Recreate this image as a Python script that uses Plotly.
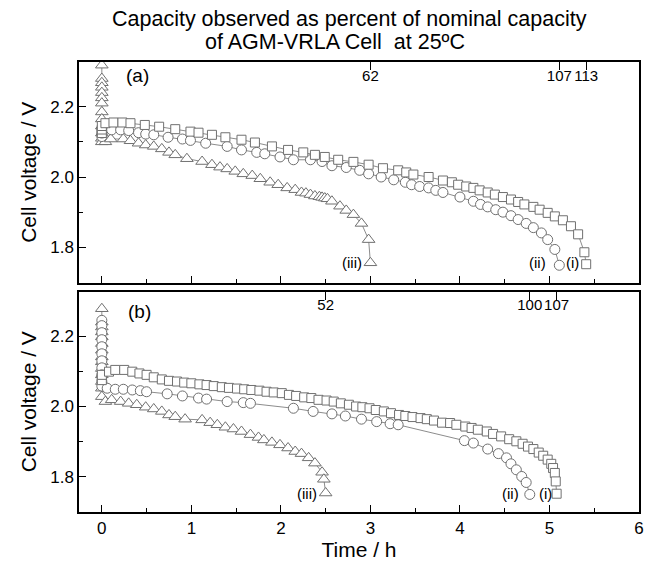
import plotly.graph_objects as go

# ---------------- data ----------------
# Panel (a)
a_sq_t = [0.00, 0.00, 0.00, 0.04, 0.13, 0.23, 0.32, 0.48, 0.64, 0.82, 0.99, 1.08, 1.23, 1.38, 1.56, 1.71,
          1.90, 2.08, 2.25, 2.38, 2.49, 2.64, 2.81, 2.98, 3.14, 3.31, 3.40, 3.48, 3.65, 3.81, 3.91, 3.98,
          4.07, 4.15, 4.22, 4.31, 4.39, 4.48, 4.57, 4.65, 4.72, 4.82, 4.89, 4.98, 5.06, 5.15, 5.24, 5.32,
          5.39, 5.41]
a_sq_v = [2.125, 2.135, 2.145, 2.153, 2.155, 2.155, 2.153, 2.148, 2.143, 2.136, 2.129, 2.126, 2.120, 2.113,
          2.106, 2.098, 2.087, 2.077, 2.070, 2.063, 2.057, 2.049, 2.043, 2.035, 2.025, 2.019, 2.013, 2.007,
          2.000, 1.990, 1.985, 1.978, 1.973, 1.969, 1.962, 1.956, 1.950, 1.943, 1.936, 1.929, 1.922, 1.915,
          1.907, 1.898, 1.888, 1.877, 1.860, 1.837, 1.786, 1.752]

a_ci_t = [0.00, 0.00, 0.00, 0.02, 0.11, 0.21, 0.30, 0.41, 0.49, 0.58, 0.74, 0.90, 0.99, 1.16, 1.40, 1.56,
          1.73, 1.82, 1.99, 2.14, 2.33, 2.46, 2.57, 2.73, 2.88, 2.98, 3.12, 3.26, 3.39, 3.46, 3.55, 3.65,
          3.73, 3.81, 4.00, 4.15, 4.23, 4.31, 4.40, 4.48, 4.57, 4.65, 4.74, 4.82, 4.91, 4.98, 5.06, 5.11]
a_ci_v = [2.115, 2.125, 2.135, 2.134, 2.134, 2.134, 2.132, 2.126, 2.122, 2.120, 2.113, 2.108, 2.104, 2.096,
          2.087, 2.077, 2.070, 2.066, 2.057, 2.049, 2.049, 2.044, 2.032, 2.027, 2.019, 2.009, 2.000, 1.992,
          1.985, 1.978, 1.973, 1.969, 1.962, 1.956, 1.943, 1.931, 1.922, 1.915, 1.907, 1.900, 1.890, 1.879,
          1.868, 1.856, 1.841, 1.822, 1.794, 1.749]

a_tr_t = [0.00, 0.00, 0.00, 0.00, 0.00, 0.00, 0.00, 0.00, 0.00, 0.00, 0.00, 0.00, 0.00, 0.04, 0.10, 0.24,
          0.32, 0.41, 0.49, 0.58, 0.67, 0.75, 0.82, 0.95, 1.12, 1.23, 1.32, 1.40, 1.49, 1.58, 1.68, 1.77,
          1.88, 1.97, 2.07, 2.16, 2.23, 2.28, 2.33, 2.38, 2.43, 2.46, 2.49, 2.52, 2.57, 2.66, 2.73, 2.81,
          2.90, 2.98, 3.00]
a_tr_v = [2.318, 2.280, 2.268, 2.255, 2.240, 2.225, 2.210, 2.185, 2.165, 2.145, 2.125, 2.110, 2.100, 2.100,
          2.108, 2.108, 2.103, 2.096, 2.091, 2.087, 2.080, 2.070, 2.063, 2.052, 2.044, 2.035, 2.028, 2.023,
          2.016, 2.009, 2.004, 1.995, 1.985, 1.978, 1.969, 1.964, 1.956, 1.954, 1.950, 1.946, 1.944, 1.942,
          1.940, 1.938, 1.931, 1.917, 1.905, 1.893, 1.868, 1.822, 1.756]

# Panel (b)
b_sq_t = [0.00, 0.00, 0.08, 0.15, 0.25, 0.34, 0.42, 0.50, 0.58, 0.67, 0.75, 0.84, 0.92, 1.00, 1.09, 1.17,
          1.25, 1.34, 1.42, 1.51, 1.59, 1.67, 1.76, 1.84, 1.92, 2.01, 2.09, 2.17, 2.26, 2.34, 2.42, 2.51,
          2.59, 2.67, 2.76, 2.84, 2.91, 2.99, 3.06, 3.15, 3.23, 3.32, 3.39, 3.47, 3.56, 3.63, 3.71, 3.80,
          3.89, 3.96, 4.06, 4.13, 4.20, 4.30, 4.37, 4.46, 4.55, 4.63, 4.70, 4.76, 4.82, 4.88, 4.93, 4.98,
          5.02, 5.04, 5.06, 5.07, 5.08]
b_sq_v = [2.075, 2.090, 2.099, 2.104, 2.104, 2.099, 2.094, 2.090, 2.083, 2.077, 2.073, 2.071, 2.068, 2.066,
          2.063, 2.061, 2.058, 2.055, 2.053, 2.051, 2.049, 2.047, 2.045, 2.042, 2.040, 2.038, 2.033, 2.030,
          2.026, 2.024, 2.019, 2.017, 2.014, 2.009, 2.005, 2.000, 1.998, 1.995, 1.990, 1.986, 1.981, 1.976,
          1.973, 1.970, 1.967, 1.964, 1.960, 1.954, 1.953, 1.948, 1.943, 1.939, 1.934, 1.929, 1.922, 1.915,
          1.907, 1.901, 1.894, 1.886, 1.879, 1.869, 1.860, 1.849, 1.837, 1.825, 1.811, 1.787, 1.752]

b_ci_t = [0.00, 0.00, 0.00, 0.00, 0.00, 0.00, 0.00, 0.00, 0.00, 0.00, 0.00, 0.06, 0.15, 0.24, 0.34, 0.43,
          0.50, 0.73, 0.90, 1.08, 1.17, 1.40, 1.58, 1.66, 2.14, 2.36, 2.57, 2.72, 2.90, 3.07, 3.22, 3.31,
          4.05, 4.15, 4.31, 4.43, 4.52, 4.57, 4.63, 4.69, 4.74, 4.78]
b_ci_v = [2.245, 2.230, 2.210, 2.190, 2.170, 2.150, 2.130, 2.110, 2.090, 2.072, 2.058, 2.052, 2.049, 2.049,
          2.047, 2.045, 2.042, 2.036, 2.030, 2.024, 2.021, 2.014, 2.011, 2.009, 1.995, 1.986, 1.979, 1.973,
          1.964, 1.957, 1.951, 1.948, 1.903, 1.896, 1.879, 1.866, 1.854, 1.837, 1.820, 1.801, 1.784, 1.750]

b_tr_t = [0.00, 0.00, 0.00, 0.00, 0.00, 0.00, 0.00, 0.00, 0.00, 0.00, 0.00, 0.00, 0.00, 0.00, 0.04, 0.11,
          0.21, 0.30, 0.39, 0.49, 0.58, 0.67, 0.75, 0.82, 0.93, 1.12, 1.21, 1.29, 1.38, 1.47, 1.56, 1.66,
          1.75, 1.81, 1.90, 1.99, 2.08, 2.16, 2.23, 2.31, 2.38, 2.46, 2.48, 2.50]
b_tr_v = [2.278, 2.240, 2.226, 2.212, 2.198, 2.179, 2.160, 2.141, 2.127, 2.108, 2.090, 2.071, 2.052, 2.028,
          2.014, 2.019, 2.014, 2.009, 2.005, 1.998, 1.993, 1.986, 1.976, 1.971, 1.964, 1.962, 1.954, 1.948,
          1.941, 1.936, 1.929, 1.920, 1.912, 1.905, 1.898, 1.891, 1.882, 1.872, 1.866, 1.854, 1.839, 1.813,
          1.793, 1.754]

# capacity (% of nominal) at end of discharge: (iii), (ii), (i)
a_capacity = ["62", "107", "113"]
b_capacity = ["52", "100", "107"]
series_labels = ["(i)", "(ii)", "(iii)"]
panel_labels = ["(a)", "(b)"]
title_lines = ["Capacity observed as percent of nominal capacity", "of AGM-VRLA Cell  at 25ºC"]

# ---------------- figure ----------------
FONT = "Liberation Sans, Arial, Helvetica, sans-serif"
MK = "#707070"
LN = "#8c8c8c"

fig = go.Figure()

def add_series(t, v, symbol, size, xa, ya):
    fig.add_trace(go.Scatter(
        x=t, y=v, mode="lines+markers", xaxis=xa, yaxis=ya, showlegend=False,
        line=dict(color=LN, width=1),
        marker=dict(symbol=symbol, size=size, color="white", line=dict(color=MK, width=1)),
    ))

# panel (a)
add_series(a_tr_t, a_tr_v, "triangle-up", 11, "x", "y")
add_series(a_ci_t, a_ci_v, "circle", 10, "x", "y")
add_series(a_sq_t, a_sq_v, "square", 9, "x", "y")
# panel (b)
add_series(b_tr_t, b_tr_v, "triangle-up", 11, "x2", "y2")
add_series(b_ci_t, b_ci_v, "circle", 10, "x2", "y2")
add_series(b_sq_t, b_sq_v, "square", 9, "x2", "y2")

a_ends = [a_tr_t[-1], a_ci_t[-1], a_sq_t[-1]]
b_ends = [b_tr_t[-1], b_ci_t[-1], b_sq_t[-1]]
# carrier traces for the top capacity axes
fig.add_trace(go.Scatter(x=a_ends, y=[None] * 3, xaxis="x3", yaxis="y", showlegend=False, hoverinfo="skip"))
fig.add_trace(go.Scatter(x=b_ends, y=[None] * 3, xaxis="x4", yaxis="y2", showlegend=False, hoverinfo="skip"))

XR = [-0.255, 6.0]
YR = [1.70, 2.327]

xcommon = dict(range=XR, showline=True, linecolor="black", linewidth=1.5, mirror=True,
               ticks="inside", ticklen=7, tickwidth=1.2, tickcolor="black", dtick=1, tick0=0,
               minor=dict(ticks="inside", ticklen=4, dtick=0.5, tick0=0, tickcolor="black", tickwidth=1.2),
               showgrid=False, zeroline=False, tickfont=dict(size=17, color="black", family=FONT))
ycommon = dict(range=YR, showline=True, linecolor="black", linewidth=1.5, mirror=True,
               ticks="inside", ticklen=7, tickwidth=1.2, tickcolor="black", dtick=0.2, tick0=0,
               minor=dict(ticks="inside", ticklen=4, dtick=0.1, tick0=0, tickcolor="black", tickwidth=1.2),
               showgrid=False, zeroline=False, tickformat=".1f",
               tickfont=dict(size=17, color="black", family=FONT),
               title=dict(text="Cell voltage / V", font=dict(size=21, color="black", family=FONT), standoff=8))
topcommon = dict(range=XR, side="top", showline=False, showgrid=False, zeroline=False,
                 ticks="inside", ticklen=8, tickwidth=1.2, tickcolor="black", tickangle=0,
                 ticklabelposition="inside", tickfont=dict(size=15, color="black", family=FONT))

fig.update_layout(
    width=653, height=566,
    margin=dict(l=79, r=9, t=62, b=53),
    paper_bgcolor="white", plot_bgcolor="white",
    font=dict(family=FONT, color="black"),
    xaxis=dict(domain=[0, 1], anchor="y", showticklabels=False, matches="x2", **xcommon),
    yaxis=dict(domain=[0.51, 1], anchor="x", **ycommon),
    xaxis2=dict(domain=[0, 1], anchor="y2",
                title=dict(text="Time / h", font=dict(size=21, color="black", family=FONT), standoff=4),
                **xcommon),
    yaxis2=dict(domain=[0, 0.49], anchor="x2", **ycommon),
    xaxis3=dict(overlaying="x", anchor="y", tickvals=a_ends, ticktext=[a_capacity[0], a_capacity[1], a_capacity[2]],
                **topcommon),
    xaxis4=dict(overlaying="x2", anchor="y2", tickvals=b_ends, ticktext=[b_capacity[0], b_capacity[1], b_capacity[2]],
                **topcommon),
)

ann = []
def lab(text, x, y, xref, yref, size):
    ann.append(dict(text=text, x=x, y=y, xref=xref, yref=yref, showarrow=False,
                    xanchor="center", yanchor="middle",
                    font=dict(size=size, color="black", family=FONT)))

# two-line title (placed in paper coordinates above the plot)
lab(title_lines[0], 0.483, 1.0965, "paper", "paper", 21.5)
lab(title_lines[1], 0.458, 1.0455, "paper", "paper", 21.5)

lab(panel_labels[0], 0.40, 2.29, "x", "y", 19)
lab(panel_labels[1], 0.42, 2.269, "x2", "y2", 19)
lab(series_labels[2], 2.79, 1.757, "x", "y", 15)
lab(series_labels[1], 4.87, 1.757, "x", "y", 15)
lab(series_labels[0], 5.26, 1.757, "x", "y", 15)
lab(series_labels[2], 2.29, 1.754, "x2", "y2", 15)
lab(series_labels[1], 4.56, 1.754, "x2", "y2", 15)
lab(series_labels[0], 4.96, 1.754, "x2", "y2", 15)
fig.update_layout(annotations=ann)

fig.write_html("out.html")
